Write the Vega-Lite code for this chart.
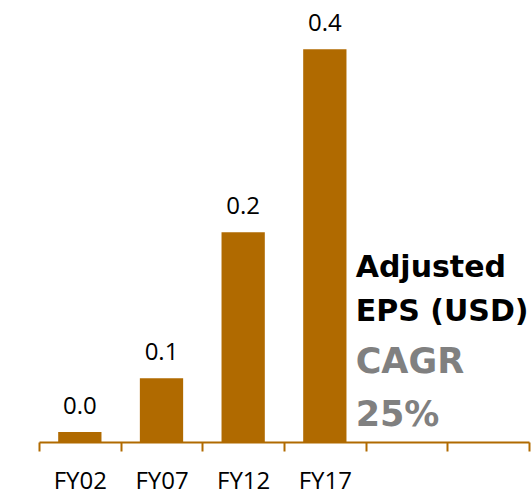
{
  "$schema": "https://vega.github.io/schema/vega-lite/v6.json",
  "width": 490,
  "height": 432,
  "padding": {"left": 38, "top": 10, "right": 3, "bottom": 0},
  "config": {"view": {"stroke": null}, "font": "Open Sans"},
  "data": {"values": [
    {"year": "FY02", "eps": 0.0102},
    {"year": "FY07", "eps": 0.065},
    {"year": "FY12", "eps": 0.2137},
    {"year": "FY17", "eps": 0.40}
  ]},
  "layer": [
    {
      "mark": {"type": "bar", "color": "#B06A00", "width": {"band": 0.53}},
      "encoding": {
        "x": {
          "field": "year", "type": "nominal", "title": null,
          "scale": {"domain": ["FY02", "FY07", "FY12", "FY17", "e1", "e2"], "paddingInner": 0, "paddingOuter": 0},
          "axis": {
            "labelAngle": 0, "labelFontSize": 24, "labelColor": "#000000", "labelFont": "Open Sans",
            "labelPadding": 18,
            "labelExpr": "indexof(['e1','e2'], datum.value) >= 0 ? '' : datum.label",
            "domainColor": "#B06A00", "domainWidth": 2,
            "tickColor": "#B06A00", "tickWidth": 2, "tickSize": 9, "tickBand": "extent"
          }
        },
        "y": {"field": "eps", "type": "quantitative", "scale": {"domain": [0, 0.44], "nice": false}, "axis": null}
      }
    },
    {
      "mark": {"type": "text", "fontSize": 24, "color": "#000000", "baseline": "alphabetic", "dy": -18},
      "encoding": {
        "x": {"field": "year", "type": "nominal"},
        "y": {"field": "eps", "type": "quantitative"},
        "text": {"field": "eps", "type": "quantitative", "format": ".1f"}
      }
    },
    {
      "data": {"values": [{"note": ["Adjusted", "EPS (USD)"]}]},
      "mark": {"type": "text", "font": "DejaVu Sans", "fontSize": 30, "fontWeight": "bold", "color": "#000000", "align": "left", "baseline": "alphabetic", "lineHeight": 44, "dx": -10},
      "encoding": {
        "x": {"datum": "FY17", "bandPosition": 1},
        "y": {"datum": 0.168},
        "text": {"field": "note"}
      }
    },
    {
      "data": {"values": [{"note": ["CAGR", "25%"]}]},
      "mark": {"type": "text", "font": "DejaVu Sans", "fontSize": 35, "fontWeight": "bold", "color": "#808080", "align": "left", "baseline": "alphabetic", "lineHeight": 53, "dx": -10},
      "encoding": {
        "x": {"datum": "FY17", "bandPosition": 1},
        "y": {"datum": 0.0703},
        "text": {"field": "note"}
      }
    }
  ]
}
